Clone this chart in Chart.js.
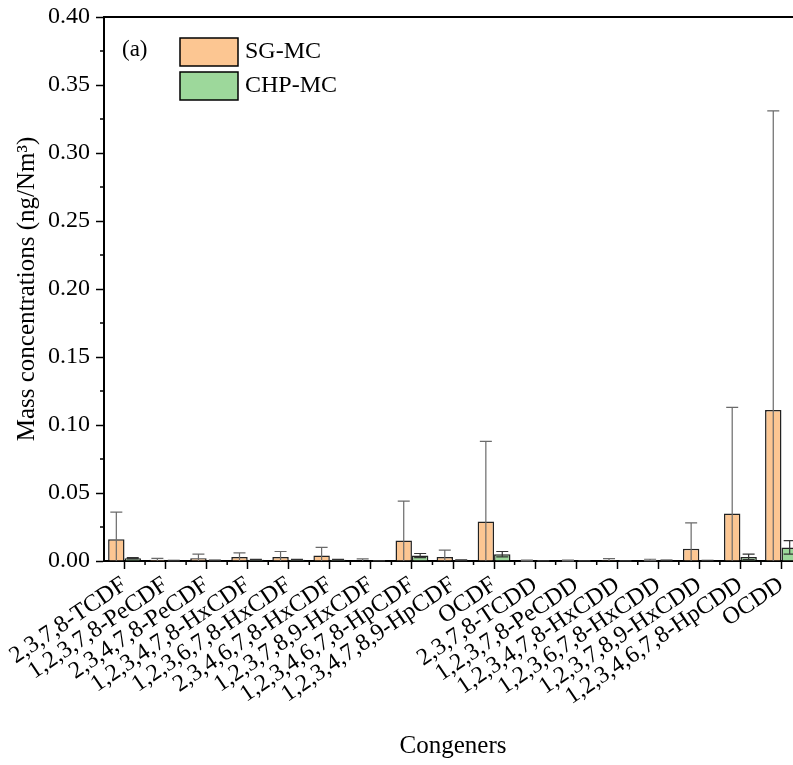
<!DOCTYPE html>
<html>
<head>
<meta charset="utf-8">
<script src="https://cdn.jsdelivr.net/npm/chart.js@4.4.1/dist/chart.umd.min.js"></script>
<style>
    body { margin: 0; background: #fff; overflow: hidden; }
    #wrap { width: 812px; height: 765px; }
</style>
</head>
<body>
<div id="wrap"><canvas id="massChart" width="812" height="765"></canvas></div>
<script>
// Congeners and mass concentrations (ng/Nm3)
const congeners = [
    '2,3,7,8-TCDF', '1,2,3,7,8-PeCDF', '2,3,4,7,8-PeCDF', '1,2,3,4,7,8-HxCDF',
    '1,2,3,6,7,8-HxCDF', '2,3,4,6,7,8-HxCDF', '1,2,3,7,8,9-HxCDF', '1,2,3,4,6,7,8-HpCDF',
    '1,2,3,4,7,8,9-HpCDF', 'OCDF', '2,3,7,8-TCDD', '1,2,3,7,8-PeCDD',
    '1,2,3,4,7,8-HxCDD', '1,2,3,6,7,8-HxCDD', '1,2,3,7,8,9-HxCDD', '1,2,3,4,6,7,8-HpCDD', 'OCDD'
];
const sgValues = [0.016, 0.001, 0.002, 0.003, 0.003, 0.004, 0.0005, 0.015, 0.003, 0.029, 0.0004, 0.0004, 0.0007, 0.0008, 0.009, 0.035, 0.111];
const sgErrors = [0.020, 0.001, 0.003, 0.003, 0.004, 0.006, 0.001, 0.029, 0.005, 0.059, 0.0003, 0.0003, 0.001, 0.0005, 0.019, 0.078, 0.220];
const chpValues = [0.002, 0.0003, 0.0005, 0.001, 0.001, 0.001, 0.0002, 0.004, 0.0005, 0.005, 0.0002, 0.0002, 0.0002, 0.0004, 0.0003, 0.003, 0.010];
const chpErrors = [0.0005, 0.0002, 0.0002, 0.0003, 0.0003, 0.0003, 0.0001, 0.0015, 0.0003, 0.002, 0.0001, 0.0001, 0.0001, 0.0002, 0.0001, 0.002, 0.005];
const seriesNames = ['SG-MC', 'CHP-MC'];

const serif = "'Liberation Serif', 'Times New Roman', serif";

// Error bars, minor ticks, frame and legend drawn over the bars
const extrasPlugin = {
    id: 'extras',
    afterDatasetsDraw(chart) {
        const ctx = chart.ctx;
        const y = chart.scales.y;
        const x = chart.scales.x;
        const area = chart.chartArea;
        const errs = [sgErrors, chpErrors];
        const errColors = ['#6a6a6a', '#333'];

        ctx.save();
        chart.data.datasets.forEach((ds, di) => {
            const meta = chart.getDatasetMeta(di);
            meta.data.forEach((bar, i) => {
                const v = ds.data[i];
                const e = errs[di][i];
                const top = y.getPixelForValue(v + e);
                const lowVal = v - e;
                const bottom = y.getPixelForValue(Math.max(0, lowVal));
                const cap = 6;
                ctx.strokeStyle = errColors[di];
                ctx.lineWidth = 1.2;
                ctx.beginPath();
                ctx.moveTo(bar.x, bottom);
                ctx.lineTo(bar.x, top);
                ctx.moveTo(bar.x - cap, top);
                ctx.lineTo(bar.x + cap, top);
                if (lowVal > 0) {
                    ctx.moveTo(bar.x - cap, bottom);
                    ctx.lineTo(bar.x + cap, bottom);
                }
                ctx.stroke();
            });
        });

        // frame top and right
        ctx.strokeStyle = '#000';
        ctx.lineWidth = 2;
        ctx.beginPath();
        ctx.moveTo(area.left, area.top);
        ctx.lineTo(area.right, area.top);
        ctx.lineTo(area.right, area.bottom);
        ctx.stroke();

        // minor ticks on y
        ctx.lineWidth = 1.5;
        ctx.beginPath();
        for (let v = 0.025; v < 0.4; v += 0.05) {
            const py = y.getPixelForValue(v);
            ctx.moveTo(area.left, py);
            ctx.lineTo(area.left - 4, py);
        }
        // minor ticks on x at category boundaries
        for (let i = 0; i < congeners.length - 1; i++) {
            const px = (x.getPixelForValue(i) + x.getPixelForValue(i + 1)) / 2;
            ctx.moveTo(px, area.bottom);
            ctx.lineTo(px, area.bottom + 4);
        }
        ctx.stroke();

        // panel label and legend
        ctx.fillStyle = '#000';
        ctx.font = '23px ' + serif;
        ctx.textBaseline = 'middle';
        ctx.textAlign = 'left';
        ctx.fillText('(a)', 122, 50);
        const colors = ['#fcc692', '#9dd89b'];
        const rows = [52, 86];
        ctx.font = '24px ' + serif;
        seriesNames.forEach((name, k) => {
            ctx.fillStyle = colors[k];
            ctx.fillRect(180, rows[k] - 14, 58, 28);
            ctx.strokeStyle = '#000';
            ctx.lineWidth = 1.5;
            ctx.strokeRect(180, rows[k] - 14, 58, 28);
            ctx.fillStyle = '#000';
            ctx.fillText(name, 245, rows[k]);
        });
        ctx.restore();
    }
};

new Chart(document.getElementById('massChart'), {
    type: 'bar',
    data: {
        labels: congeners,
        datasets: [{
            label: seriesNames[0],
            data: sgValues,
            backgroundColor: '#fcc692',
            borderColor: '#222',
            borderWidth: 1.5,
            categoryPercentage: 0.8,
            barPercentage: 1.0
        }, {
            label: seriesNames[1],
            data: chpValues,
            backgroundColor: '#9dd89b',
            borderColor: '#222',
            borderWidth: 1.5,
            categoryPercentage: 0.8,
            barPercentage: 1.0
        }]
    },
    options: {
        responsive: false,
        animation: false,
        layout: { padding: { top: 17, right: 10, left: 0, bottom: 0 } },
        plugins: {
            legend: { display: false },
            tooltip: { enabled: false }
        },
        scales: {
            x: {
                afterFit: (scale) => { scale.height = 204; },
                grid: {
                    display: true,
                    drawOnChartArea: false,
                    offset: false,
                    tickLength: 8,
                    tickWidth: 1.5,
                    tickColor: '#000'
                },
                border: { display: true, color: '#000', width: 2 },
                ticks: {
                    autoSkip: false,
                    maxRotation: 34,
                    minRotation: 34,
                    padding: 2,
                    color: '#000',
                    font: { family: serif, size: 24 }
                },
                title: {
                    display: true,
                    text: 'Congeners',
                    color: '#000',
                    font: { family: serif, size: 25 },
                    padding: { top: 0, bottom: 4 }
                }
            },
            y: {
                min: 0,
                max: 0.4,
                afterFit: (scale) => {
                    scale.width = 104;
                    scale.paddingTop = 0;
                    scale.paddingBottom = 0;
                },
                grid: {
                    display: true,
                    drawOnChartArea: false,
                    tickLength: 8,
                    tickWidth: 1.5,
                    tickColor: '#000'
                },
                border: { display: true, color: '#000', width: 2 },
                ticks: {
                    stepSize: 0.05,
                    padding: 6,
                    color: '#000',
                    font: { family: serif, size: 24 },
                    callback: (v) => v.toFixed(2)
                },
                title: {
                    display: true,
                    text: 'Mass concentrations (ng/Nm³)',
                    color: '#000',
                    font: { family: serif, size: 25 },
                    padding: { top: 12, bottom: 0 }
                }
            }
        }
    },
    plugins: [extrasPlugin]
});
</script>
</body>
</html>
